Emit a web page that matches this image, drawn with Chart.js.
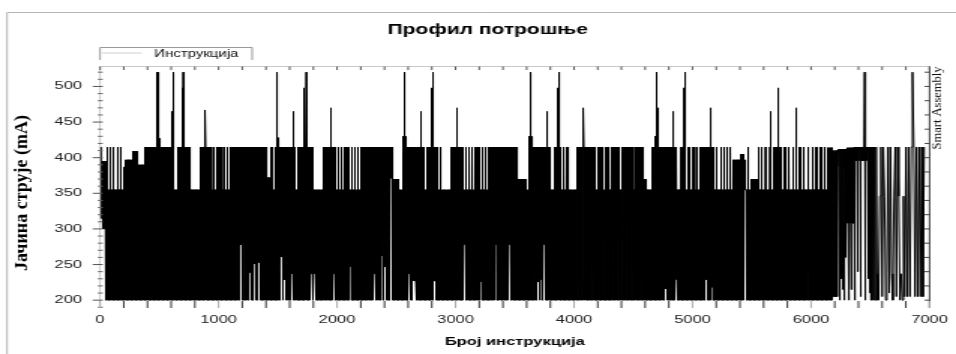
<!DOCTYPE html>
<html>
<head>
<meta charset="utf-8">
<script src="https://cdn.jsdelivr.net/npm/chart.js@4/dist/chart.umd.min.js"></script>
<style>
  html, body { margin: 0; padding: 0; background: #fff; overflow: hidden; }
  #c { display: block; }
</style>
</head>
<body>
<canvas id="c" width="637" height="354" style="width:956px;height:354px"></canvas>
<script>
// Current profile of a program run: current (mA) against instruction number.

const chartTitle = 'Профил потрошње';
const seriesLabel = 'Инструкција';
const xTitle = 'Број инструкција';
const yTitle = 'Јачина струје (mA)';
const sideLabel = 'Smart Assembly';

const xTicks = [0, 1000, 2000, 3000, 4000, 5000, 6000, 7000];
const yTicks = [200, 250, 300, 350, 400, 450, 500];

// Main run: the trace swings between a low of 200 mA and an upper level per stretch.
const mainEnd = 6136;
const baseLow = 200;
const baseHigh = 355;

// Upper level of the swings: [from, to, mA] (355 mA elsewhere)
const plateaus = [
  [0, 17, 415], [17, 45, 395], [196, 216, 387], [216, 281, 397], [281, 314, 409],
  [314, 365, 390], [379, 463, 415], [480, 500, 427], [505, 617, 415], [659, 758, 415],
  [842, 1403, 415], [1403, 1445, 372], [1445, 1515, 415], [1490, 1505, 428],
  [1529, 1641, 415], [1669, 1782, 415], [1880, 2469, 415], [2469, 2525, 370],
  [2553, 2581, 430], [2581, 2735, 415], [2764, 2848, 415], [2960, 3521, 415],
  [3521, 3591, 370], [3619, 3647, 430], [3647, 3802, 415], [3830, 3858, 415],
  [4020, 4587, 415], [4587, 4615, 370], [4657, 4868, 415], [4680, 4715, 430],
  [4896, 5176, 415], [5345, 5443, 397], [5400, 5430, 405], [5499, 5549, 370],
  [5700, 5746, 415]
];

// Single excursions to 415 mA inside 355 mA stretches
const strokes = [62, 84, 112, 149, 177, 1796, 2876, 3884, 3915, 3943,
  5177, 5205, 5238, 5267, 5294, 5322, 5471, 5555, 5583, 5617, 5654, 5682,
  5780, 5816, 5850, 5872, 5906, 5942, 5976, 6012, 6046, 6083, 6116];

// Short stays at 355 mA inside 415 mA stretches
const notches = [715, 738, 945, 974, 1004, 1033, 1061, 1088, 1117, 1145, 1470,
  1998, 2026, 2054, 2082, 2110, 2138, 2166, 2189, 3072, 3100, 3129, 3156, 3184,
  3213, 3240, 3268, 4133, 4189, 4251, 4307, 4391, 4503, 4952, 4986, 5022, 5050];

// Current peaks: [instruction, mA]
const peaks = [
  [482, 520], [490, 520], [603, 465], [623, 520], [693, 498], [701, 520], [890, 467],
  [1496, 520], [1636, 465], [1723, 498], [1740, 520], [1950, 470], [2567, 520],
  [2707, 465], [2792, 498], [2806, 520], [3016, 470], [3634, 520], [3768, 465],
  [3863, 498], [3878, 520], [4082, 470], [4694, 520], [4707, 470], [4834, 465],
  [4924, 498], [4941, 520], [5154, 470], [5654, 465], [5724, 498], [5872, 470],
  [6452, 520], [6851, 520]
];

// Opening instructions whose low stays above 200 mA: [from, to, mA]
const leadLows = [[0, 28, 315], [28, 48, 300]];

// Places where the low of the swings stays higher: [instruction, mA]
const floors = [
  [1189, 278], [1220, 278], [1248, 249], [1268, 239], [1305, 251], [1338, 253],
  [1529, 261], [1557, 229], [1577, 252], [1619, 237], [1647, 250], [1782, 237],
  [1812, 237], [1902, 336], [1972, 237], [2110, 247], [2258, 247], [2287, 247],
  [2315, 237], [2348, 250], [2376, 262], [2405, 247], [2455, 371], [2609, 237],
  [2643, 227], [2657, 227], [2820, 227], [3016, 227], [3078, 278], [3213, 226],
  [3310, 239], [3339, 278], [3373, 266], [3423, 239], [3457, 278], [3667, 239],
  [3695, 226], [3718, 229], [3746, 278], [3866, 239], [4046, 226], [4071, 229],
  [4096, 239], [4155, 248], [4335, 229], [4383, 239], [4413, 278], [4447, 266],
  [4497, 239], [4526, 278], [4579, 228], [4741, 218], [4770, 216], [4789, 218],
  [4862, 229], [5115, 229], [5162, 218], [5443, 355], [5982, 239]
];

// Closing part of the run: [from, to, low mA, high mA, step, middle mA]
const tailBlocks = [
  [6136, 6180, 200, 414, 1, null],
  [6180, 6225, 205, 410, 3, null],
  [6225, 6300, 388, 412, 2, null],
  [6300, 6370, 308, 414, 3, null],
  [6370, 6510, 396, 415, 2, null],
  [6510, 6560, 200, 415, 8, null],
  [6560, 6790, 237, 415, 10, 346],
  [6790, 6966, 205, 415, 11, null]
];

// Deep dips inside the closing part: [instruction, mA]
const tailDrops = [
  [6240, 200], [6255, 230], [6270, 215], [6283, 200], [6292, 260], [6318, 200],
  [6340, 215], [6367, 200], [6390, 240], [6420, 205], [6456, 200], [6480, 230],
  [6500, 210], [6575, 200], [6600, 205], [6630, 200], [6660, 210], [6690, 200],
  [6720, 205], [6750, 200], [6775, 200]
];

// ---- build the trace ----
const hi = [], lo = [];
for (let i = 0; i < mainEnd; i++) { hi.push(baseHigh); lo.push(baseLow); }
function paint(arr, a, b, v) {
  for (let i = Math.max(0, a); i < Math.min(mainEnd, b); i++) arr[i] = v;
}
plateaus.forEach(([a, b, v]) => paint(hi, a, b, v));
notches.forEach(c => paint(hi, c - 9, c + 10, baseHigh));
strokes.forEach(c => paint(hi, c - 2, c + 3, 415));
leadLows.forEach(([a, b, v]) => paint(lo, a, b, v));
floors.forEach(([c, v]) => paint(lo, c - 8, c + 9, v));

const points = [];
for (let i = 0; i < mainEnd; i++) points.push({ x: i, y: i % 2 ? hi[i] : lo[i] });
tailBlocks.forEach(([a, b, low, high, step, mid]) => {
  for (let i = a, k = 0; i < b; i += step, k++) {
    let v = k % 2 ? high : low;
    if (mid !== null && k % 4 === 2) v = mid;
    points.push({ x: i, y: v });
  }
});
function setNearest(x, v) {
  let a = 0, b = points.length - 1;
  while (b - a > 1) {
    const m = (a + b) >> 1;
    if (points[m].x <= x) a = m; else b = m;
  }
  const k = Math.abs(points[a].x - x) <= Math.abs(points[b].x - x) ? a : b;
  points[k].y = v;
}
peaks.forEach(([x, v]) => setNearest(x, v));
tailDrops.forEach(([x, v]) => setNearest(x, v));

// ---- drawing ----
const canvas = document.getElementById('c');
const stretch = 956 / canvas.width;   // displayed horizontal stretch of the canvas
const SANS = "'Liberation Sans', Arial, sans-serif";
const SERIF = "'Liberation Serif', 'Times New Roman', serif";

function seg(ctx, x1, y1, x2, y2, color) {
  ctx.strokeStyle = color;
  ctx.lineWidth = 1;
  ctx.beginPath();
  ctx.moveTo(x1, y1);
  ctx.lineTo(x2, y2);
  ctx.stroke();
}

const decorations = {
  id: 'decorations',
  beforeDraw(chart) {
    const ctx = chart.ctx;
    ctx.save();
    ctx.fillStyle = '#fff';
    ctx.fillRect(0, 0, chart.width, chart.height);
    // outer frame of the figure
    seg(ctx, 4.7, 12.5, chart.width, 12.5, '#b4b4b4');
    seg(ctx, 4.7, 12.5, 4.7, chart.height, '#b4b4b4');
    ctx.restore();
  },
  afterDraw(chart) {
    const { ctx, chartArea: { left, right, top, bottom }, scales: { x, y } } = chart;
    ctx.save();
    // axis lines
    seg(ctx, left, top, right, top, '#c8c8c8');
    seg(ctx, left, top, left, bottom, '#c8c8c8');
    seg(ctx, right, top, right, bottom, '#333');
    // left ticks
    for (let v = 190; v <= 520; v += 10) {
      const yy = y.getPixelForValue(v);
      if (v % 50 === 0 && v >= 200 && v <= 500) seg(ctx, left - 4.9, yy, left + 1.8, yy, '#555');
      else seg(ctx, left - 1.5, yy, left + 1.8, yy, '#666');
    }
    // right ticks
    for (let v = 200; v <= 520; v += 20) {
      const yy = y.getPixelForValue(v);
      seg(ctx, right - 3.3, yy, right, yy, '#444');
    }
    // top and bottom ticks
    for (let v = 0; v <= 7000; v += 200) {
      const xx = x.getPixelForValue(v);
      seg(ctx, xx, top, xx, top + 3.5, '#555');
      seg(ctx, xx, bottom, xx, bottom - 7, v % 1000 === 0 ? '#aaa' : '#333');
    }
    // title
    ctx.fillStyle = '#000';
    ctx.font = `bold 14px ${SANS}`;
    ctx.textAlign = 'center';
    ctx.textBaseline = 'middle';
    ctx.fillText(chartTitle, 325, 30.5);
    // legend
    const lx0 = left, lx1 = 168, ly0 = 47.5, ly1 = 60;
    ctx.strokeStyle = '#999';
    ctx.lineWidth = 1;
    ctx.beginPath();
    ctx.moveTo(lx0, ly1); ctx.lineTo(lx0, ly0); ctx.lineTo(lx1, ly0); ctx.lineTo(lx1, ly1);
    ctx.stroke();
    seg(ctx, 67.8, 53, 94.5, 53, '#cfcfcf');
    ctx.fillStyle = '#111';
    ctx.font = `10px ${SANS}`;
    ctx.textAlign = 'left';
    ctx.fillText(chart.data.datasets[0].label, 102.7, 53.8);
    // rotated labels, drawn unstretched
    ctx.save();
    ctx.translate(22 / stretch, 193);
    ctx.scale(1 / stretch, 1);
    ctx.rotate(-Math.PI / 2);
    ctx.fillStyle = '#000';
    ctx.font = `bold 18px ${SERIF}`;
    ctx.textAlign = 'center';
    ctx.fillText(yTitle, 0, 0);
    ctx.restore();
    ctx.save();
    ctx.translate(938 / stretch, 108);
    ctx.scale(1 / stretch, 1);
    ctx.rotate(-Math.PI / 2);
    ctx.fillStyle = '#111';
    ctx.font = `12.5px ${SERIF}`;
    ctx.textAlign = 'center';
    ctx.fillText(sideLabel, 0, 0);
    ctx.restore();
    ctx.restore();
  }
};

new Chart(canvas, {
  type: 'line',
  data: {
    datasets: [{
      label: seriesLabel,
      data: points,
      borderColor: '#000',
      borderWidth: 1,
      borderJoinStyle: 'bevel',
      borderCapStyle: 'butt',
      pointRadius: 0,
      tension: 0,
      fill: false
    }]
  },
  options: {
    responsive: false,
    animation: false,
    devicePixelRatio: 1,
    parsing: false,
    normalized: true,
    events: [],
    layout: { padding: { left: 0, top: 66.5, right: 17.33, bottom: 0 } },
    plugins: {
      legend: { display: false },
      title: { display: false },
      tooltip: { enabled: false }
    },
    scales: {
      x: {
        type: 'linear',
        min: 0,
        max: 7000,
        grid: { display: false, drawTicks: false },
        border: { display: false },
        afterBuildTicks: s => { s.ticks = xTicks.map(v => ({ value: v })); },
        afterFit: s => { s.height = 46; },
        ticks: {
          font: { family: SANS, size: 11 },
          color: '#222',
          padding: 5.4,
          maxRotation: 0,
          autoSkip: false,
          callback: v => String(v)
        },
        title: {
          display: true,
          text: xTitle,
          color: '#000',
          font: { family: SANS, size: 11, weight: 'bold' },
          padding: { top: 0, bottom: 5.4 }
        }
      },
      y: {
        type: 'linear',
        min: 189,
        max: 528,
        grid: { display: false, drawTicks: false },
        border: { display: false },
        afterBuildTicks: s => { s.ticks = yTicks.map(v => ({ value: v })); },
        afterFit: s => { s.width = 66.67; },
        ticks: {
          font: { family: SANS, size: 11 },
          color: '#222',
          padding: 12,
          callback: v => String(v)
        }
      }
    }
  },
  plugins: [decorations]
});
</script>
</body>
</html>
